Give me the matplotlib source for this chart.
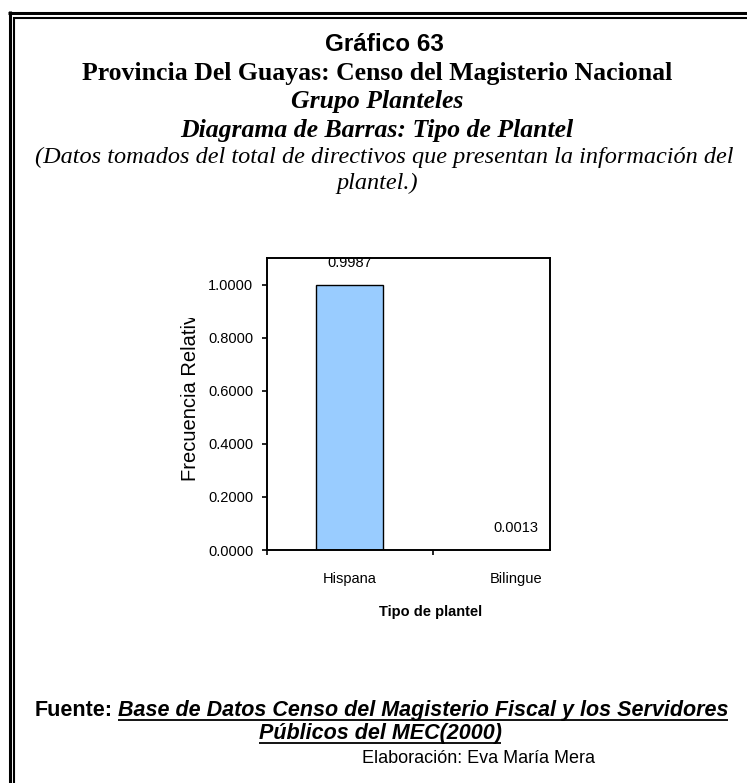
import matplotlib
matplotlib.use('Agg')
import matplotlib.pyplot as plt
import numpy as np
from matplotlib.lines import Line2D
from matplotlib.transforms import Bbox, TransformedBbox
from matplotlib.ticker import FormatStrFormatter

# ---------------- data ----------------
categories = ['Hispana', 'Bilingue']
values = [0.9987, 0.0013]
value_labels = ['0.9987', '0.0013']
y_ticks = [0.0, 0.2, 0.4, 0.6, 0.8, 1.0]

title_lines = [
    'Gráfico 63',
    'Provincia Del Guayas: Censo del Magisterio Nacional',
    'Grupo Planteles',
    'Diagrama de Barras: Tipo de Plantel',
    '(Datos tomados del total de directivos que presentan la información del',
    'plantel.)',
]
source_label = 'Fuente:'
source_line1 = 'Base de Datos Censo del Magisterio Fiscal y los Servidores'
source_line2 = 'Públicos del MEC(2000)'
author_line = 'Elaboración: Eva María Mera'
x_label = 'Tipo de plantel'
y_label = 'Frecuencia Relativa'

# ---------------- figure ----------------
W, H = 747, 783
fig = plt.figure(figsize=(W / 100, H / 100), dpi=100)
fig.patch.set_facecolor('white')
fx = lambda x: x / W
fy = lambda y: 1 - y / H

SANS = 'Liberation Sans'
SERIF = 'Liberation Serif'

# double border (top and left only)
def fline(xs, ys, lw):
    fig.add_artist(Line2D([fx(v) for v in xs], [fy(v) for v in ys],
                          transform=fig.transFigure, color='black', lw=lw,
                          solid_capstyle='butt'))

fline([9.5, 9.5], [11, 783], 2.2)
fline([8, 747], [12.5, 12.5], 2.2)
fline([14, 14], [16.5, 783], 1.5)
fline([13, 747], [17.5, 17.5], 1.5)

# titles
cx = 377
fig.text(fx(384), fy(51), title_lines[0], family=SANS, weight='bold', size=17.5,
         ha='center', va='baseline')
fig.text(fx(cx), fy(80), title_lines[1], family=SERIF, weight='bold', size=18.5,
         ha='center', va='baseline')
fig.text(fx(cx), fy(108), title_lines[2], family=SERIF, weight='bold',
         style='italic', size=18.5, ha='center', va='baseline')
fig.text(fx(cx), fy(137), title_lines[3], family=SERIF, weight='bold',
         style='italic', size=18.5, ha='center', va='baseline')
fig.text(fx(384), fy(163), title_lines[4], family=SERIF, style='italic',
         size=17.5, ha='center', va='baseline')
fig.text(fx(cx), fy(189), title_lines[5], family=SERIF, style='italic',
         size=17.5, ha='center', va='baseline')

# ---------------- chart ----------------
ax_l, ax_r, ax_t, ax_b = 266.7, 550, 258, 550
ax = fig.add_axes([fx(ax_l), fy(ax_b), (ax_r - ax_l) / W, (ax_b - ax_t) / H])
x = np.arange(len(categories))
ax.bar(x, values, width=0.4, color='#99CCFF', edgecolor='black', linewidth=1.0,
       zorder=2)
ax.set_xlim(-0.5, 1.207)
ax.set_ylim(0, 1.1)

for sp in ax.spines.values():
    sp.set_linewidth(1.4)

ax.set_yticks(y_ticks)
ax.yaxis.set_major_formatter(FormatStrFormatter('%.4f'))
ax.tick_params(axis='y', direction='out', length=3.6, width=1.2, pad=6,
               labelsize=10.5)
for lab in ax.get_yticklabels():
    lab.set_family(SANS)

ax.set_xticks([-0.5, 0.5])
ax.set_xticklabels([])
ax.tick_params(axis='x', which='major', direction='out', length=3.6, width=1.2)
ax.set_xticks(x, minor=True)
ax.set_xticklabels(categories, minor=True, family=SANS, size=10.5)
ax.tick_params(axis='x', which='minor', length=0, pad=16)

for xi, v, s in zip(x, values, value_labels):
    ax.annotate(s, (xi, v), xytext=(0, 15.5), textcoords='offset points',
                ha='center', va='center', family=SANS, size=10.5,
                annotation_clip=False, zorder=3)

fig.text(fx(431), fy(612), x_label, family=SANS, weight='bold', size=10.5,
         ha='center', va='center')

yl = fig.text(fx(190.7), fy(481), y_label, family=SANS, size=14.5,
              rotation=90, ha='center', va='bottom')
yl.set_clip_box(TransformedBbox(Bbox([[0, fy(783)], [1, fy(318)]]),
                                fig.transFigure))
yl.set_clip_on(True)

# ---------------- footer ----------------
fig.canvas.draw()
renderer = fig.canvas.get_renderer()

FS = 15.5
Y1, Y2, Y3 = 716, 739, 763
t_a = fig.text(0, fy(Y1), source_label, family=SANS, weight='bold', size=FS,
               ha='left', va='baseline')
t_b = fig.text(0, fy(Y1), source_line1, family=SANS, weight='bold',
               style='italic', size=FS, ha='left', va='baseline')
wa = t_a.get_window_extent(renderer).width
wb = t_b.get_window_extent(renderer).width
gap = 5
start = 381.5 - (wa + gap + wb) / 2
t_a.set_x(fx(start))
t_b.set_x(fx(start + wa + gap))
fline([start + wa + gap, start + wa + gap + wb], [Y1 + 3.5, Y1 + 3.5], 1.3)

c2 = 380
t_c = fig.text(fx(c2), fy(Y2), source_line2, family=SANS, weight='bold',
               style='italic', size=FS, ha='center', va='baseline')
wc = t_c.get_window_extent(renderer).width
fline([c2 - wc / 2, c2 + wc / 2], [Y2 + 3.5, Y2 + 3.5], 1.3)

fig.text(fx(362), fy(Y3), author_line, family=SANS, size=13, ha='left',
         va='baseline')

fig.savefig('out.png', dpi=100, facecolor='white')
